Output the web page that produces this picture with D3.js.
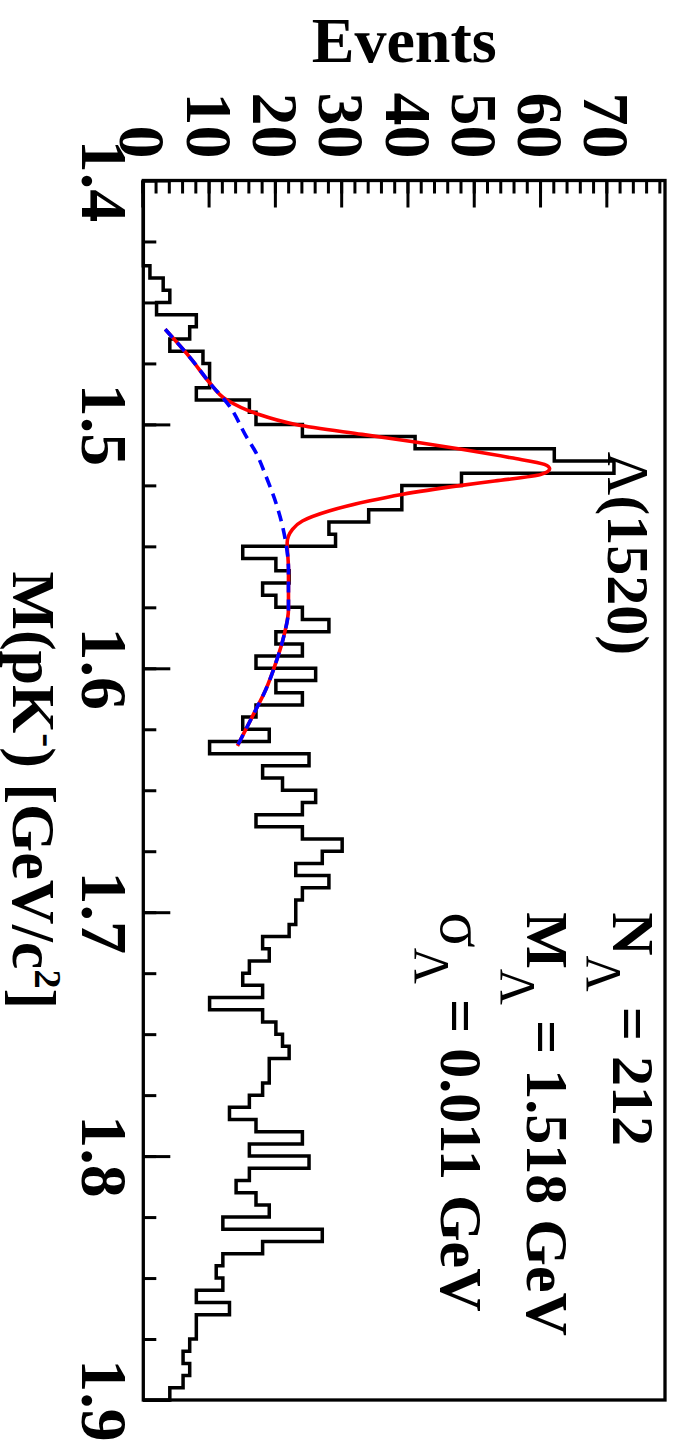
<!DOCTYPE html>
<html>
<head>
<meta charset="utf-8">
<script src="https://cdn.jsdelivr.net/npm/d3@7"></script>
<style>
  body { margin: 0; background: #fff; }
  text { font-family: "Liberation Serif", "Times New Roman", serif; }
</style>
</head>
<body>
<div id="chart"></div>
<script>
// histogram: 100 bins of 5 MeV from 1.4 to 1.9 GeV
var binStart = 1.4, binWidth = 0.005;
var counts = [
  0, 0, 0, 0, 0, 0, 0, 1, 3, 4,
  2, 8, 7, 4, 9, 10, 10, 8, 16, 17,
  24, 41, 62, 71, 48, 39, 39, 34, 28, 29,
  15, 20, 22, 18, 20, 24, 28, 20, 24, 17,
  26, 20, 24, 17, 15, 19, 10, 25, 18, 21,
  26, 24, 17, 24, 30, 27, 23, 28, 24, 23,
  23, 22, 18, 19, 16, 15, 18, 10, 18, 20,
  21, 22, 19, 19, 18, 16, 13, 17, 24, 16,
  25, 16, 14, 17, 19, 12, 27, 18, 12, 11,
  12, 8, 13, 8, 8, 7, 6, 7, 6, 4
];

// fit curves: [mass, events]
var totalFit = [
  [1.461, 3.3], [1.4734, 7.3], [1.4829, 10.0], [1.4898, 12.5], [1.4955, 17.0],
  [1.500, 23.0], [1.5041, 33.0], [1.5072, 41.0], [1.5102, 48.0], [1.5137, 55.5],
  [1.5164, 60.5], [1.5182, 61.3], [1.5205, 60.0], [1.5232, 53.0], [1.525, 48.0],
  [1.5287, 39.0], [1.5314, 34.0], [1.5355, 28.0], [1.5396, 24.0], [1.543, 22.5],
  [1.5485, 21.7], [1.5594, 21.9], [1.5758, 21.9], [1.5868, 21.2], [1.5977, 20.0],
  [1.6086, 18.5], [1.6195, 16.5], [1.6318, 14.2]
];
var background = [
  [1.461, 3.3], [1.4734, 7.3], [1.4829, 10.0], [1.4925, 13.0], [1.5048, 15.5],
  [1.5116, 17.0], [1.5212, 18.5], [1.5321, 20.0], [1.5417, 21.0], [1.5485, 21.5],
  [1.5594, 21.9], [1.5758, 21.9], [1.5868, 21.2], [1.5977, 20.0], [1.6086, 18.5],
  [1.6195, 16.5], [1.6318, 14.2]
];

var massTicks = [1.4, 1.5, 1.6, 1.7, 1.8, 1.9];
var eventTicks = [0, 10, 20, 30, 40, 50, 60, 70];
var fitLines = [
  {main: "N", sub: "\u039B", rest: " = 212", m: 1.70, e: 70.8},
  {main: "M", sub: "\u039B", rest: " = 1.518 GeV", m: 1.70, e: 57.9},
  {main: "\u03C3", sub: "\u039B", rest: " = 0.011 GeV", m: 1.70, e: 44.9}
];

// the plot is drawn as a usual ROOT frame and then turned 90 degrees clockwise
var width = 1219.5, height = 521.7;

var svg = d3.select("#chart")
  .append("svg")
    .attr("width", 677)
    .attr("height", 1449);

svg.append("rect").attr("width", 677).attr("height", 1449).attr("fill", "#fff");

var g = svg.append("g")
  .attr("transform", "translate(665,180.5) rotate(90)");

var x = d3.scaleLinear().domain([1.4, 1.9]).range([0, width]);
var y = d3.scaleLinear().domain([0, 78.7]).range([height, 0]);

// histogram outline
var histPts = counts.map(function(c, i) { return [binStart + i * binWidth, c]; });
histPts.push([binStart + counts.length * binWidth, counts[counts.length - 1]]);
histPts.push([binStart + counts.length * binWidth, 0]);

g.append("path")
  .datum(histPts)
  .attr("fill", "none")
  .attr("stroke", "#000")
  .attr("stroke-width", 3.5)
  .attr("d", d3.line()
    .curve(d3.curveStepAfter)
    .x(function(d) { return x(d[0]); })
    .y(function(d) { return y(d[1]); }));

var fitLine = d3.line()
  .curve(d3.curveMonotoneX)
  .x(function(d) { return x(d[0]); })
  .y(function(d) { return y(d[1]); });

g.append("path")
  .datum(totalFit)
  .attr("fill", "none")
  .attr("stroke", "#ff0000")
  .attr("stroke-width", 3.6)
  .attr("d", fitLine);

g.append("path")
  .datum(background)
  .attr("fill", "none")
  .attr("stroke", "#0000ff")
  .attr("stroke-width", 3.6)
  .attr("stroke-dasharray", "11,7")
  .attr("d", fitLine);

// mass axis (left side of the picture)
var xMinor = d3.range(0, 21).map(function(i) { return 1.4 + i * 0.025; });
g.append("g")
  .attr("transform", "translate(0," + height + ")")
  .call(d3.axisBottom(x).tickValues(xMinor).tickSize(-13).tickFormat(""))
  .call(function(a) { a.select(".domain").remove(); })
  .selectAll("line").attr("stroke-width", 3);

var xAxis = g.append("g")
  .attr("transform", "translate(0," + height + ")")
  .call(d3.axisBottom(x).tickValues(massTicks).tickSize(-27).tickFormat(d3.format(".1f")));
xAxis.select(".domain").remove();
xAxis.selectAll("line").attr("stroke-width", 3);
xAxis.selectAll("text")
  .attr("y", 61.6)
  .attr("dy", 0)
  .style("font-size", "66px")
  .style("font-weight", "bold")
  .attr("fill", "#000");

// events axis (top of the picture)
var yMinor = d3.range(0, 40).map(function(i) { return i * 2; });
g.append("g")
  .call(d3.axisLeft(y).tickValues(yMinor).tickSize(-13).tickFormat(""))
  .call(function(a) { a.select(".domain").remove(); })
  .selectAll("line").attr("stroke-width", 3);

var yAxis = g.append("g")
  .call(d3.axisLeft(y).tickValues(eventTicks).tickSize(-27).tickPadding(22));
yAxis.select(".domain").remove();
yAxis.selectAll("line").attr("stroke-width", 3);
yAxis.selectAll("text")
  .attr("dy", "0.34em")
  .style("font-size", "66px")
  .style("font-weight", "bold")
  .attr("fill", "#000");

// frame
g.append("rect")
  .attr("width", width)
  .attr("height", height)
  .attr("fill", "none")
  .attr("stroke", "#000")
  .attr("stroke-width", 3.3);

// axis titles
var xt = g.append("text")
  .attr("x", x(1.65))
  .attr("y", height + 130)
  .attr("text-anchor", "middle")
  .style("font-size", "62px")
  .style("font-weight", "bold");
xt.append("tspan").text("M(pK");
xt.append("tspan").attr("dy", -22).style("font-size", "42px").text("-");
xt.append("tspan").attr("dy", 22).text(") [GeV/c");
xt.append("tspan").attr("dy", -22).style("font-size", "38px").text("2");
xt.append("tspan").attr("dy", 22).text("]");

g.append("text")
  .attr("transform", "translate(-118.5," + (height / 2) + ") rotate(-90)")
  .attr("text-anchor", "middle")
  .style("font-size", "64px")
  .style("font-weight", "bold")
  .text("Events");

// peak label
var pk = g.append("text")
  .attr("x", x(1.5112))
  .attr("y", y(70.1))
  .style("font-size", "60px");
pk.append("tspan").text("\u039B");
pk.append("tspan").style("font-weight", "bold").text("(1520)");

// fit results
fitLines.forEach(function(d) {
  var t = g.append("text")
    .attr("x", x(d.m))
    .attr("y", y(d.e))
    .style("font-size", "60px")
    .style("font-weight", "bold");
  t.append("tspan")
    .style("font-weight", d.main === "\u03C3" ? "normal" : "bold")
    .style("font-size", d.main === "\u03C3" ? "66px" : "60px")
    .text(d.main);
  t.append("tspan")
    .attr("dy", 26)
    .style("font-size", "50px")
    .style("font-weight", "normal")
    .text(d.sub);
  t.append("tspan")
    .attr("dy", -26)
    .text(d.rest);
});
</script>
</body>
</html>
